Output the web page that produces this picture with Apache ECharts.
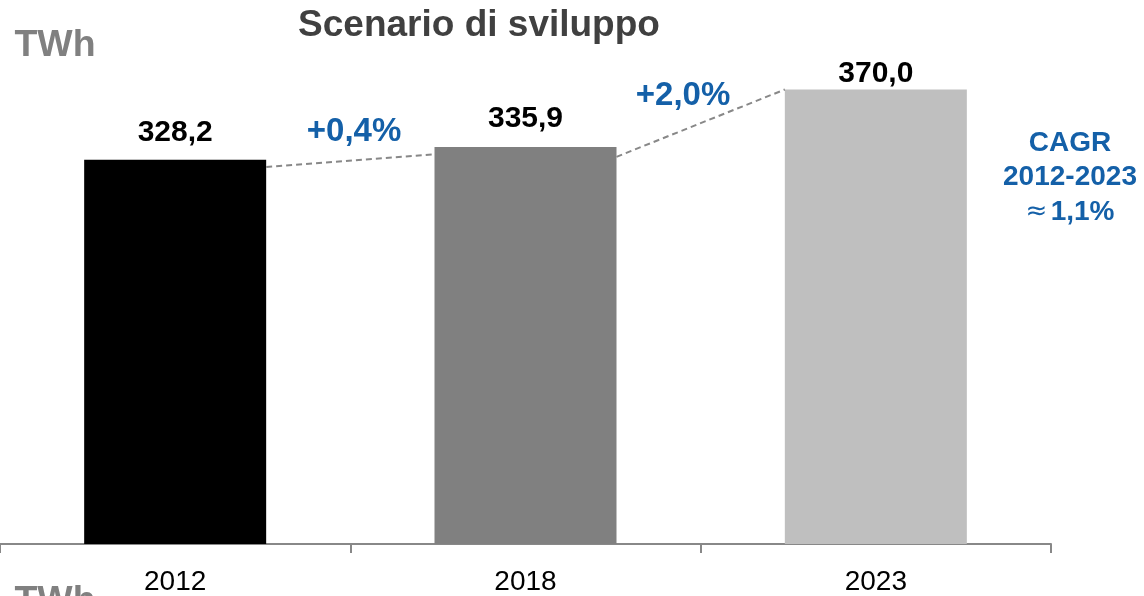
<!DOCTYPE html>
<html>
<head>
<meta charset="utf-8">
<script src="https://cdn.jsdelivr.net/npm/echarts@6/dist/echarts.min.js"></script>
<style>
  html, body { margin: 0; padding: 0; background: #fff; }
  #chart { width: 1144px; height: 596px; }
</style>
</head>
<body>
<div id="chart"></div>
<script>
// data
const years = ['2012', '2018', '2023']
const values = [328.2, 335.9, 370.0]
const barColors = ['#000000', '#808080', '#bfbfbf']
const growthLabels = ['+0,4%', '+2,0%']
const cagrLines = ['CAGR', '2012-2023', '1,1%']

const blue = '#1460a8'
const font = 'Liberation Sans, Arial, Helvetica, sans-serif'
const labelGap = [12, 13, 1]
const barW = 182

const chart = echarts.init(document.getElementById('chart'))

const fmt = v => v.toFixed(1).replace('.', ',')

const option = {
  animation: false,
  backgroundColor: '#ffffff',
  textStyle: { fontFamily: font },
  grid: { left: -3, right: 93, top: 39, bottom: 47, containLabel: false },
  xAxis: {
    type: 'category',
    data: years,
    axisLine: { show: true, lineStyle: { color: '#888888', width: 2 } },
    axisTick: { show: true, length: 9, lineStyle: { color: '#888888', width: 2 } },
    axisLabel: { color: '#000000', fontSize: 28, fontFamily: font, margin: 24 }
  },
  yAxis: {
    type: 'value', min: 100, max: 400, show: false,
    splitLine: { show: false }
  },
  series: [{
    type: 'bar',
    barWidth: barW,
    data: values.map((v, i) => ({
      value: v,
      itemStyle: { color: barColors[i] },
      label: { distance: labelGap[i] }
    })),
    label: {
      show: true, position: 'top',
      formatter: p => fmt(p.value),
      color: '#000000', fontSize: 30, fontWeight: 'bold', fontFamily: font
    }
  }]
}
chart.setOption(option)

// dashed connectors between bars (from data, via the axes)
const px = (i, v) => chart.convertToPixel({ xAxisIndex: 0, yAxisIndex: 0 }, [i, v])
const connectors = [
  [px(0, 324), px(1, 331.5)],
  [px(1, 330), px(2, 370)]
].map(([a, b]) => ({
  type: 'line',
  shape: { x1: a[0] + barW / 2, y1: a[1], x2: b[0] - barW / 2, y2: b[1] },
  style: { stroke: '#888888', lineWidth: 2, lineDash: [6, 4] },
  z: 10
}))

const txt = (text, x, y, opt) => ({
  type: 'text', x: x, y: y, scaleX: opt.sx || 1, z: 20,
  style: {
    text: text, fill: opt.color, font: `${opt.weight || 'bold'} ${opt.size}px ${font}`,
    textAlign: 'center', textVerticalAlign: 'middle'
  }
})

chart.setOption({
  graphic: [
    ...connectors,
    txt('Scenario di sviluppo', 479, 26, { color: '#404040', size: 37 }),
    txt('TWh', 55, 46, { color: '#808080', size: 36, sx: 1.04 }),
    txt('TWh', 55, 602, { color: '#808080', size: 36, sx: 1.04 }),
    txt(growthLabels[0], 354, 132, { color: blue, size: 33 }),
    txt(growthLabels[1], 683, 96, { color: blue, size: 33 }),
    txt(cagrLines[0], 1070, 143, { color: blue, size: 28 }),
    txt(cagrLines[1], 1070, 177, { color: blue, size: 28 }),
    {
      type: 'text', x: 1070, y: 212, z: 20,
      style: {
        text: '{a|≈} {b|' + cagrLines[2] + '}',
        textAlign: 'center', textVerticalAlign: 'middle',
        rich: {
          a: { fill: blue, font: `normal 26px DejaVu Sans, ${font}` },
          b: { fill: blue, font: `bold 28px ${font}` }
        }
      }
    }
  ]
})
</script>
</body>
</html>
